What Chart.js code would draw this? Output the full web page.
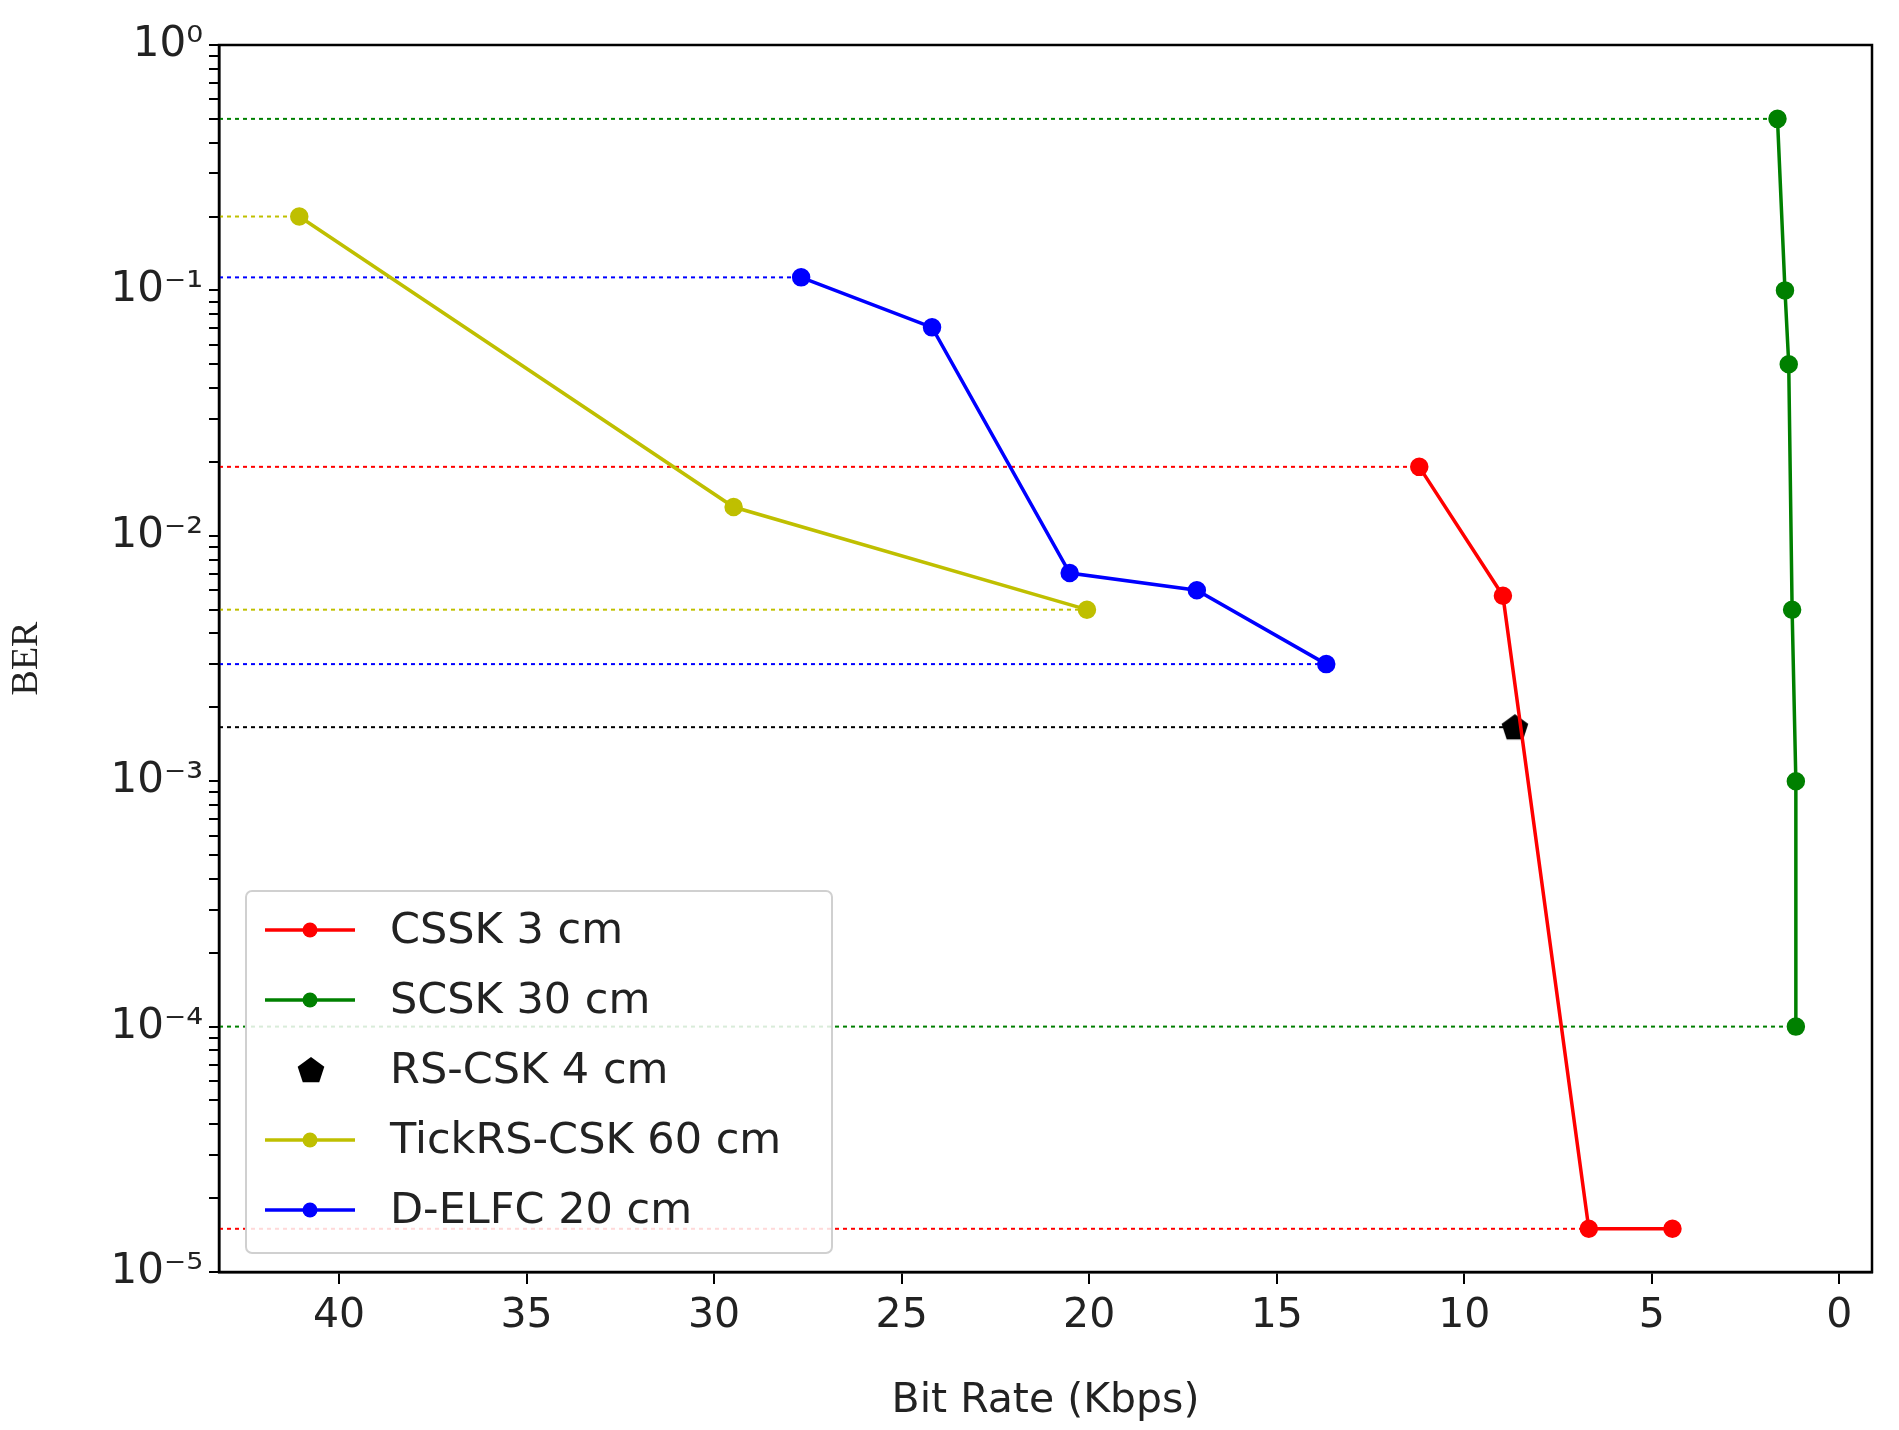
<!DOCTYPE html>
<html>
<head>
<meta charset="utf-8">
<script src="https://cdn.jsdelivr.net/npm/chart.js@4"></script>
<style>
  body { margin: 0; background: #fff; }
  #wrap { width: 1899px; height: 1430px; }
</style>
</head>
<body>
<div id="wrap"><canvas id="berChart" width="1899" height="1430"></canvas></div>
<script>
// data
const csskRate = [11.2, 8.97, 6.68, 4.45];
const csskBer = [0.0191, 0.0057, 1.5e-5, 1.5e-5];
const scskRate = [1.65, 1.45, 1.35, 1.26, 1.16, 1.16];
const scskBer = [0.5, 0.1, 0.05, 0.005, 0.001, 1e-4];
const rsRate = [8.65];
const rsBer = [0.00166];
const tickRate = [41.06, 29.48, 20.06];
const tickBer = [0.2, 0.0131, 0.005];
const elfcRate = [27.68, 24.19, 20.52, 17.13, 13.68];
const elfcBer = [0.113, 0.0707, 0.00705, 0.006, 0.003];
const xTicks = [0, 5, 10, 15, 20, 25, 30, 35, 40];
const yDecades = [-5, -4, -3, -2, -1, 0];
const supers = { "-": "⁻", "0": "⁰", "1": "¹", "2": "²", "3": "³", "4": "⁴", "5": "⁵" };

const X_MIN = -0.87, X_MAX = 43.2;
const FONT = "'DejaVu Sans', sans-serif";

function pts(xs, ys) {
  return xs.map((x, i) => ({ x: x, y: ys[i] }));
}

// pentagon marker for RS-CSK
const pent = document.createElement("canvas");
pent.width = 30; pent.height = 30;
(function () {
  const c = pent.getContext("2d");
  c.fillStyle = "#000";
  c.beginPath();
  for (let i = 0; i < 5; i++) {
    const a = -Math.PI / 2 + i * 2 * Math.PI / 5;
    c.lineTo(15 + 14 * Math.cos(a), 16 + 14 * Math.sin(a));
  }
  c.closePath();
  c.fill();
})();

function series(label, color, xs, ys) {
  return {
    label: label, data: pts(xs, ys), borderColor: color, backgroundColor: color,
    borderWidth: 3.5, pointRadius: 7.5, pointHoverRadius: 7.5, showLine: true,
  };
}

// dotted guide from the left axis to a point
function guide(color, x, y) {
  return {
    label: "", guide: true, data: [{ x: X_MAX, y: y }, { x: x, y: y }],
    borderColor: color, borderWidth: 2, borderDash: [4, 4], pointRadius: 0, showLine: true,
  };
}

const datasets = [
  series("CSSK 3 cm", "#ff0000", csskRate, csskBer),
  series("SCSK 30 cm", "#008000", scskRate, scskBer),
  { label: "RS-CSK 4 cm", data: pts(rsRate, rsBer), pointStyle: pent, pointRadius: 14,
    borderColor: "#000", backgroundColor: "#000", showLine: false },
  series("TickRS-CSK 60 cm", "#bfbf00", tickRate, tickBer),
  series("D-ELFC 20 cm", "#0000ff", elfcRate, elfcBer),
  guide("#008000", scskRate[0], scskBer[0]),
  guide("#008000", scskRate[5], scskBer[5]),
  guide("#bfbf00", tickRate[0], tickBer[0]),
  guide("#bfbf00", tickRate[2], tickBer[2]),
  guide("#0000ff", elfcRate[0], elfcBer[0]),
  guide("#0000ff", elfcRate[4], elfcBer[4]),
  guide("#ff0000", csskRate[0], csskBer[0]),
  guide("#ff0000", csskRate[3], csskBer[3]),
  guide("#000000", rsRate[0], rsBer[0]),
];

const legendBox = {
  id: "legendBox",
  afterDraw(chart) {
    const ctx = chart.ctx;
    const x0 = 246, y0 = 891, w = 586, h = 362;
    ctx.save();
    ctx.fillStyle = "rgba(255,255,255,0.85)";
    ctx.strokeStyle = "#d0d0d0";
    ctx.lineWidth = 2;
    ctx.beginPath();
    ctx.roundRect(x0, y0, w, h, 6);
    ctx.fill();
    ctx.stroke();
    ctx.font = "43px " + FONT;
    ctx.textBaseline = "middle";
    chart.data.datasets.filter(d => !d.guide).forEach((d, i) => {
      const y = 930 + i * 70;
      if (d.showLine !== false) {
        ctx.strokeStyle = d.borderColor;
        ctx.lineWidth = 3.5;
        ctx.beginPath(); ctx.moveTo(265, y); ctx.lineTo(355, y); ctx.stroke();
        ctx.fillStyle = d.borderColor;
        ctx.beginPath(); ctx.arc(310, y, 7.5, 0, Math.PI * 2); ctx.fill();
      } else {
        ctx.drawImage(pent, 296, y - 15);
      }
      ctx.fillStyle = "#222";
      ctx.fillText(d.label, 390, y + 2);
    });
    ctx.restore();
  },
};

const frame = {
  id: "frame",
  afterDatasetsDraw(chart) {
    const a = chart.chartArea, ctx = chart.ctx;
    ctx.save();
    ctx.strokeStyle = "#000";
    ctx.lineWidth = 2.5;
    ctx.strokeRect(a.left, a.top, a.right - a.left, a.bottom - a.top);
    ctx.restore();
  },
};

new Chart(document.getElementById("berChart"), {
  type: "scatter",
  data: { datasets: datasets },
  plugins: [legendBox, frame],
  options: {
    responsive: false,
    animation: false,
    layout: { padding: { left: 0, right: 27, top: 45, bottom: 0 } },
    plugins: { legend: { display: false }, tooltip: { enabled: false } },
    scales: {
      x: {
        type: "linear", reverse: true, min: X_MIN, max: X_MAX,
        afterBuildTicks: s => { s.ticks = xTicks.map(v => ({ value: v })); },
        afterFit: s => { s.height = 158; },
        grid: { drawOnChartArea: false, tickLength: 12, color: "#000", lineWidth: 2 },
        border: { color: "#000", width: 2.5 },
        ticks: { color: "#222", font: { size: 41, family: FONT }, padding: 8, maxRotation: 0 },
        title: { display: true, text: "Bit Rate (Kbps)", color: "#222", font: { size: 41, family: FONT } },
      },
      y: {
        type: "logarithmic", min: 1e-5, max: 1,
        afterBuildTicks: s => {
          const t = [];
          yDecades.forEach(d => {
            t.push({ value: Math.pow(10, d), major: true });
            if (d < 0) for (let m = 2; m <= 9; m++) t.push({ value: m * Math.pow(10, d) });
          });
          s.ticks = t;
        },
        afterFit: s => { s.width = 219; },
        grid: { drawOnChartArea: false, color: "#000", lineWidth: 2,
          tickLength: 10 },
        border: { color: "#000", width: 2.5 },
        ticks: {
          color: "#222", font: { size: 42, family: FONT }, padding: 6, autoSkip: false,
          callback: v => {
            const d = Math.round(Math.log10(v));
            if (Math.abs(v - Math.pow(10, d)) > 1e-12) return "";
            return "10" + String(d).split("").map(c => supers[c]).join("");
          },
        },
        title: { display: true, text: "BER", color: "#222", font: { size: 38, family: "'Liberation Serif', serif" } },
      },
    },
  },
});
</script>
</body>
</html>
